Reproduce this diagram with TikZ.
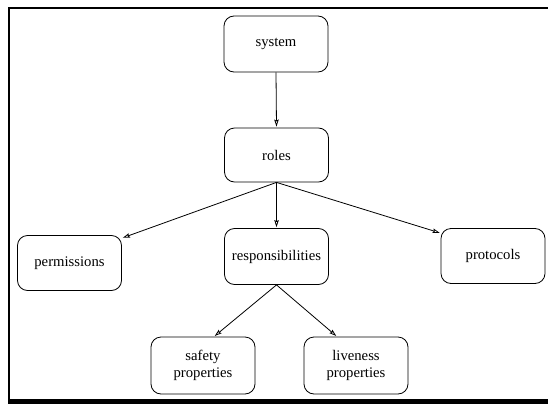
\documentclass[tikz,border=0pt]{standalone}
\usepackage{fontspec}
\setmainfont{Liberation Serif}
\usetikzlibrary{arrows.meta}
\begin{document}
\begin{tikzpicture}[x=1pt,y=-1pt,
  box/.style={draw, rounded corners=10pt, line width=0.8pt, minimum width=104pt,
    align=center, font=\fontsize{14.7}{17.5}\selectfont, inner sep=0pt},
  conn/.style={line width=0.8pt, shorten >=1pt, -{Stealth[open, length=7pt, width=4.5pt, inset=1pt]}},
  frame/.style={line width=2pt}]
\useasboundingbox (0,0) rectangle (548,404);
\fill (548,399) rectangle (8,404);
\draw[frame] (548,8) -- (9,8) -- (9,402);
\node[box, minimum height=56pt] (system) at (276,44) {system};
\node[box, minimum height=54pt] (roles) at (276.5,155) {roles};
\node[box, minimum height=55pt] (permissions) at (69.5,263) {permissions};
\node[box, minimum height=56pt] (resp) at (276.5,256.5) {responsibilities};
\node[box, minimum height=55pt] (protocols) at (493,256) {protocols};
\node[box, minimum height=57pt] (safety) at (203,365.5) {safety\\properties};
\node[box, minimum height=57pt] (liveness) at (356,365.5) {liveness\\properties};
\draw[conn] (system.south) -- (roles.north);
\draw[conn] (roles.south) -- ([yshift=-3pt]permissions.north east);
\draw[conn] (roles.south) -- (resp.north);
\draw[conn] (roles.south) -- ([yshift=-5pt]protocols.north west);
\draw[conn] (resp.south) -- ([xshift=11pt]safety.north);
\draw[conn] (resp.south) -- ([xshift=-19pt]liveness.north);
\end{tikzpicture}
\end{document}
